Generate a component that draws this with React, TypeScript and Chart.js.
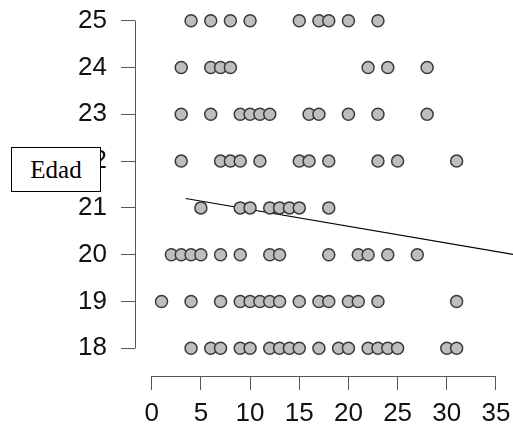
import { useEffect, useRef } from "react";
import { Chart, registerables } from "chart.js";

Chart.register(...registerables);

// Edad (y) values and the x positions of the points on each row
const ages = [18, 19, 20, 21, 22, 23, 24, 25];
const x18 = [4, 6, 7, 9, 10, 12, 13, 14, 15, 17, 19, 20, 22, 23, 24, 25, 30, 31];
const x19 = [1, 4, 7, 9, 10, 11, 12, 13, 15, 17, 18, 20, 21, 23, 31];
const x20 = [2, 3, 4, 5, 7, 9, 12, 13, 18, 21, 22, 24, 27];
const x21 = [5, 9, 10, 12, 13, 14, 15, 18];
const x22 = [3, 7, 8, 9, 11, 15, 16, 18, 23, 25, 31];
const x23 = [3, 6, 9, 10, 11, 12, 16, 17, 20, 23, 28];
const x24 = [3, 6, 7, 8, 22, 24, 28];
const x25 = [4, 6, 8, 10, 15, 17, 18, 20, 23];
const rows = [x18, x19, x20, x21, x22, x23, x24, x25];

// fitted line end points
const fitX = [3.45, 38];
const fitY = [21.2, 19.96];

const xTicks = [0, 5, 10, 15, 20, 25, 30, 35];
const yTicks = [18, 19, 20, 21, 22, 23, 24, 25];
const yLabel = "Edad";

const AXIS_COLOR = "#555";

const axisLines = {
  id: "axisLines",
  afterDraw(chart: any) {
    const { ctx, scales } = chart;
    const xs = scales.x;
    const ys = scales.y;
    ctx.save();
    ctx.strokeStyle = AXIS_COLOR;
    ctx.lineWidth = 1;
    ctx.beginPath();
    const lx = Math.round(ys.right) + 0.5;
    ctx.moveTo(lx, ys.getPixelForValue(yTicks[0]));
    ctx.lineTo(lx, ys.getPixelForValue(yTicks[yTicks.length - 1]));
    const by = Math.round(xs.top) + 0.5;
    ctx.moveTo(xs.getPixelForValue(xTicks[0]), by);
    ctx.lineTo(xs.getPixelForValue(xTicks[xTicks.length - 1]), by);
    ctx.stroke();
    ctx.restore();
  },
};

const noPad = (s: any) => {
  s.paddingTop = 0;
  s.paddingBottom = 0;
  s.paddingLeft = 0;
  s.paddingRight = 0;
};

export default function App() {
  const ref = useRef<HTMLCanvasElement | null>(null);

  useEffect(() => {
    if (!ref.current) return;
    const points: { x: number; y: number }[] = [];
    rows.forEach((xs, i) => xs.forEach((x) => points.push({ x, y: ages[i] })));
    const fit = fitX.map((x, i) => ({ x, y: fitY[i] }));
    const font = { family: "'Liberation Sans', Arial, sans-serif", size: 26 };

    const chart = new Chart(ref.current, {
      type: "scatter",
      data: {
        datasets: [
          {
            data: points,
            pointRadius: 6,
            pointBorderWidth: 1.5,
            pointBackgroundColor: "#bebebe",
            pointBorderColor: "#3a3a3a",
          } as any,
          {
            data: fit,
            showLine: true,
            pointRadius: 0,
            borderColor: "#000",
            borderWidth: 1.2,
          } as any,
        ],
      },
      options: {
        animation: false,
        responsive: false,
        events: [],
        layout: { padding: 0, autoPadding: false } as any,
        plugins: { legend: { display: false }, tooltip: { enabled: false } },
        scales: {
          x: {
            type: "linear",
            min: -1.698,
            max: 36.73,
            afterBuildTicks: (s: any) => {
              s.ticks = xTicks.map((v) => ({ value: v }));
            },
            afterFit: (s: any) => {
              s.height = 54;
              noPad(s);
            },
            border: { display: false },
            grid: { drawOnChartArea: false, drawTicks: true, tickLength: 14, color: AXIS_COLOR, lineWidth: 1 },
            ticks: { font, color: "#111", padding: 8, maxRotation: 0, autoSkip: false },
          },
          y: {
            type: "linear",
            min: 17.408,
            max: 25.442,
            afterBuildTicks: (s: any) => {
              s.ticks = yTicks.map((v) => ({ value: v }));
            },
            afterFit: (s: any) => {
              s.width = 135;
              noPad(s);
            },
            border: { display: false },
            grid: { drawOnChartArea: false, drawTicks: true, tickLength: 14, color: AXIS_COLOR, lineWidth: 1 },
            ticks: { font, color: "#111", padding: 14, autoSkip: false },
          },
        },
      },
      plugins: [axisLines],
    });
    return () => chart.destroy();
  }, []);

  return (
    <div style={{ position: "fixed", left: 0, top: 0, width: 513, height: 430, background: "#fff" }}>
      <canvas ref={ref} width={513} height={430} style={{ display: "block" }} />
      <div
        style={{
          position: "absolute",
          left: 11,
          top: 147,
          width: 90,
          height: 45,
          boxSizing: "border-box",
          border: "1px solid #000",
          background: "#fff",
          fontFamily: "'Liberation Serif', 'Times New Roman', serif",
          fontSize: 25,
          lineHeight: "43px",
          textAlign: "center",
          color: "#000",
        }}
      >
        {yLabel}
      </div>
    </div>
  );
}
